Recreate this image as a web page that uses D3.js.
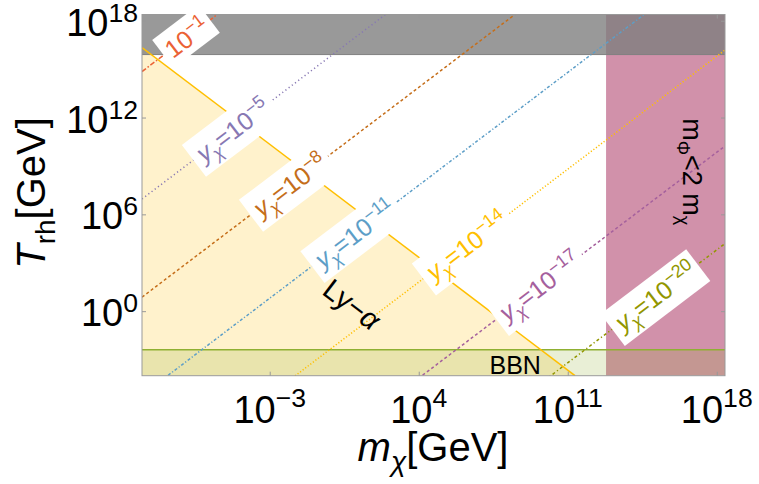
<!DOCTYPE html>
<html>
<head>
<meta charset="utf-8">
<script src="https://cdn.jsdelivr.net/npm/d3@7"></script>
<style>
  body { margin: 0; background: #fff; }
  text { font-family: "Liberation Sans", Arial, Helvetica, sans-serif; }
</style>
</head>
<body>
<svg id="chart" width="759" height="484"></svg>
<script>
// axis ranges and ticks (GeV)
const xDomain = [1e-9, 2.435e18];
const yDomain = [1e-4, 2.435e18];
const xTicks = [1e-3, 1e4, 1e11, 1e18];
const yTicks = [1e0, 1e6, 1e12, 1e18];
const xTickExp = ["−3", "4", "11", "18"];
const yTickExp = ["0", "6", "12", "18"];

// y_X contours: log10 T_rh = log10 m_chi + intercept
const yxExponents = ["−1", "−5", "−8", "−11", "−14", "−17", "−20"];
const yxIntercepts = [23.85, 15.95, 9.87, 3.8, -2.2, -8.15, -14.2];
const yxLabelMass = [-6.89, -4.73, -2.05, 1.0, 6.26, 9.69, 15.13]; // log10 m at label
const yxColors = ["#eb6235", "#8778b3", "#c56e1a", "#5d9ec7", "#ffbf00", "#a5609d", "#929600"];
const yxDashes = ["5,2,1.5,2", "1.2,2.8", "3,2.5", "3,2,1.2,2", "1.2,2", "3,2.5", "3,2.5,1.2,2.5"];

// excluded regions
const lyaProduct = Math.pow(10, 7.34); // T_rh * m_chi on the Ly-alpha line
const bbnT = 4e-3;
const upperT = 8e15;
const massLimit = 6.3e12;

const svg = d3.select("#chart");
const x = d3.scaleLog().domain(xDomain).range([142, 725]);
const y = d3.scaleLog().domain(yDomain).range([375.7, 14.5]);
const line = d3.line().x(d => x(d[0])).y(d => y(d[1]));

svg.append("clipPath").attr("id", "clip").append("rect")
  .attr("x", x(xDomain[0])).attr("y", y(yDomain[1]))
  .attr("width", x(xDomain[1]) - x(xDomain[0]))
  .attr("height", y(yDomain[0]) - y(yDomain[1]));

const plot = svg.append("g").attr("clip-path", "url(#clip)");

// Ly-alpha excluded area
const lyaPts = [[xDomain[0], yDomain[0]], [xDomain[0], lyaProduct / xDomain[0]], [lyaProduct / yDomain[0], yDomain[0]]];
plot.append("path").attr("d", line(lyaPts) + "Z")
  .attr("fill", "#ffbf00").attr("fill-opacity", 0.2);

// m_phi < 2 m_chi
plot.append("rect")
  .attr("x", x(massLimit)).attr("y", y(yDomain[1]))
  .attr("width", x(xDomain[1]) - x(massLimit))
  .attr("height", y(yDomain[0]) - y(yDomain[1]))
  .attr("fill", "#d191aa");

// upper bound band
plot.append("rect")
  .attr("x", x(xDomain[0])).attr("y", y(yDomain[1]))
  .attr("width", x(xDomain[1]) - x(xDomain[0]))
  .attr("height", y(upperT) - y(yDomain[1]))
  .attr("fill", "#7e7e7e").attr("fill-opacity", 0.79);
plot.append("line")
  .attr("x1", x(xDomain[0])).attr("x2", x(xDomain[1]))
  .attr("y1", y(upperT)).attr("y2", y(upperT))
  .attr("stroke", "#808080").attr("stroke-width", 1);

// BBN
plot.append("rect")
  .attr("x", x(xDomain[0])).attr("y", y(bbnT))
  .attr("width", x(xDomain[1]) - x(xDomain[0]))
  .attr("height", y(yDomain[0]) - y(bbnT))
  .attr("fill", "#8fb032").attr("fill-opacity", 0.2);
plot.append("line")
  .attr("x1", x(xDomain[0])).attr("x2", x(xDomain[1]))
  .attr("y1", y(bbnT)).attr("y2", y(bbnT))
  .attr("stroke", "#8fb032").attr("stroke-width", 1.5);

// y_X lines
yxIntercepts.forEach((b, i) => {
  const pts = xDomain.map(m => [m, Math.pow(10, Math.log10(m) + b)]);
  plot.append("path").attr("d", line(pts))
    .attr("fill", "none").attr("stroke", yxColors[i])
    .attr("stroke-width", 1.5).attr("stroke-dasharray", yxDashes[i]);
});

// Ly-alpha boundary
plot.append("path")
  .attr("d", line([[xDomain[0], lyaProduct / xDomain[0]], [lyaProduct / yDomain[0], yDomain[0]]]))
  .attr("fill", "none").attr("stroke", "#ffbf00").attr("stroke-width", 1.5);

// frame + axes
svg.append("rect")
  .attr("x", x(xDomain[0])).attr("y", y(yDomain[1]))
  .attr("width", x(xDomain[1]) - x(xDomain[0]))
  .attr("height", y(yDomain[0]) - y(yDomain[1]))
  .attr("fill", "none").attr("stroke", "#999");

function styleAxis(g) {
  g.select(".domain").remove();
  g.selectAll(".tick line").attr("stroke", "#999");
}
svg.append("g").attr("transform", `translate(0,${y(yDomain[0])})`)
  .call(d3.axisBottom(x).tickValues(xTicks).tickSize(-4).tickFormat(""))
  .call(styleAxis);
svg.append("g").attr("transform", `translate(0,${y(yDomain[1])})`)
  .call(d3.axisTop(x).tickValues(xTicks).tickSize(-4).tickFormat(""))
  .call(styleAxis);
svg.append("g").attr("transform", `translate(${x(xDomain[0])},0)`)
  .call(d3.axisLeft(y).tickValues(yTicks).tickSize(-4).tickFormat(""))
  .call(styleAxis);
svg.append("g").attr("transform", `translate(${x(xDomain[1])},0)`)
  .call(d3.axisRight(y).tickValues(yTicks).tickSize(-4).tickFormat(""))
  .call(styleAxis);

function powText(t, exp, size, raise) {
  t.append("tspan").text("10");
  t.append("tspan").attr("dy", -raise).attr("font-size", size * 0.7).text(exp);
}

xTicks.forEach((v, i) => {
  const t = svg.append("text").attr("x", x(v)).attr("y", 423)
    .attr("text-anchor", "middle").attr("font-size", 38).attr("fill", "#000");
  powText(t, xTickExp[i], 38, 16);
});
yTicks.forEach((v, i) => {
  const t = svg.append("text").attr("x", 138).attr("y", y(v) + 15)
    .attr("text-anchor", "end").attr("font-size", 38).attr("fill", "#000");
  powText(t, yTickExp[i], 38, 14);
});

// axis titles
const xt = svg.append("text").attr("transform", "translate(433,461)")
  .attr("text-anchor", "middle").attr("font-size", 40);
xt.append("tspan").attr("font-style", "italic").text("m");
xt.append("tspan").attr("font-style", "italic").attr("font-size", 28).attr("dy", 10).text("χ");
xt.append("tspan").attr("dy", -10).text("[GeV]");

const yt = svg.append("text").attr("transform", "translate(45,193) rotate(-90)")
  .attr("text-anchor", "middle").attr("font-size", 40);
yt.append("tspan").attr("font-style", "italic").text("T");
yt.append("tspan").attr("font-size", 28).attr("dy", 10).text("rh");
yt.append("tspan").attr("dy", -10).text("[GeV]");

// contour labels
const ang = Math.atan2(y(1e10) - y(1), x(1e10) - x(1)) * 180 / Math.PI;
yxIntercepts.forEach((b, i) => {
  const lm = yxLabelMass[i];
  const g = svg.append("g")
    .attr("transform", `translate(${x(Math.pow(10, lm))},${y(Math.pow(10, lm + b))}) rotate(${ang})`);
  const t = g.append("text").attr("text-anchor", "middle").attr("y", 9)
    .attr("font-size", 25).attr("fill", yxColors[i]);
  if (i > 0) {
    t.append("tspan").attr("font-style", "italic").text("y");
    t.append("tspan").attr("font-style", "italic").attr("font-size", 18).attr("dy", 6).text("χ");
    t.append("tspan").attr("dy", -6).text("=10");
  } else {
    t.append("tspan").text("10");
  }
  t.append("tspan").attr("font-size", 18).attr("dy", -10).text(yxExponents[i]);
  const bb = t.node().getBBox();
  g.insert("rect", "text")
    .attr("x", bb.x - 5).attr("y", bb.y - 2)
    .attr("width", bb.width + 10).attr("height", bb.height + 4)
    .attr("fill", "#fff");
});

// region labels
const lya = svg.append("text")
  .attr("transform", `translate(${x(Math.pow(10, 0.86))},${y(Math.pow(10, 0.42))}) rotate(${-ang})`)
  .attr("text-anchor", "middle").attr("y", 10).attr("font-size", 29);
lya.append("tspan").text("Ly−");
lya.append("tspan").attr("font-style", "italic").text("α");

svg.append("text").attr("x", x(Math.pow(10, 8.53))).attr("y", 374)
  .attr("text-anchor", "middle").attr("font-size", 25).text("BBN");

const mp = svg.append("text")
  .attr("transform", `translate(${x(Math.pow(10, 16.84))},${y(Math.pow(10, 8.64))}) rotate(90)`)
  .attr("text-anchor", "middle").attr("y", 9).attr("font-size", 27);
mp.append("tspan").text("m");
mp.append("tspan").attr("font-size", 18).attr("dy", 6).text("Φ");
mp.append("tspan").attr("dy", -6).text("<2 m");
mp.append("tspan").attr("font-size", 18).attr("dy", 6).text("χ");
</script>
</body>
</html>
